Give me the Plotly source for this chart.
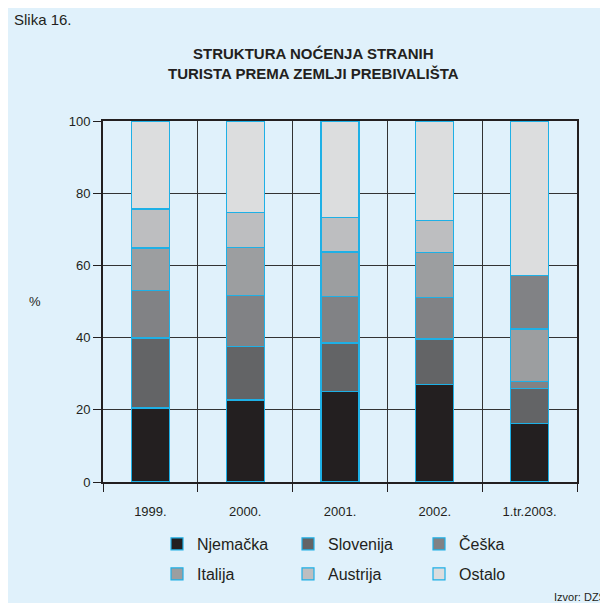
import plotly.graph_objects as go

years = ["1999.", "2000.", "2001.", "2002.", "1.tr.2003."]
countries = ["Njemačka", "Slovenija", "Češka", "Italija", "Austrija", "Ostalo"]

# share of foreign tourist nights, % (stacked bottom -> top)
njemacka = [20.5, 22.7, 25.1, 26.9, 16.1]
slovenija = [19.4, 14.8, 13.4, 12.7, 9.9]
ceska = [13.1, 14.1, 12.9, 11.6, 1.9]
italija = [11.8, 13.3, 12.3, 12.3, 14.5]
austrija = [10.8, 9.8, 9.5, 9.0, 14.7]
ostalo = [24.4, 25.3, 26.8, 27.5, 42.9]
series = [njemacka, slovenija, ceska, italija, austrija, ostalo]

BG = "#e0f1fb"
INK = "#231f20"
EDGE = "#1eb0e6"
FILLS = [
    [INK] * 5,
    ["#636466"] * 5,
    ["#818285"] * 5,
    ["#9c9ea0"] * 5,
    ["#bdbec0"] * 4 + ["#818285"],
    ["#dcddde"] * 5,
]
FONT = "Liberation Sans, Arial, sans-serif"

# page has an 8px body margin, so figure pixels = page pixels - 8
OFF = 8
W, H = 600, 595
L, R, T, B = 95, 31, 113, 121
pw, ph = W - L - R, H - T - B


def px(x):
    return (x - OFF - L) / pw


def py(y):
    return (H - B - (y - OFF)) / ph


fig = go.Figure()
for i, (name, vals, cols) in enumerate(zip(countries, series, FILLS)):
    fig.add_trace(
        go.Bar(
            x=years,
            y=vals,
            name=name,
            marker=dict(color=cols, line=dict(color=EDGE, width=1.2)),
            width=0.4,
            legend="legend" if i < 3 else "legend2",
        )
    )

legend_common = dict(
    orientation="h",
    x=px(157),
    xanchor="left",
    yanchor="middle",
    entrywidth=86,
    entrywidthmode="pixels",
    font=dict(size=16, color=INK),
    bgcolor="rgba(0,0,0,0)",
    traceorder="normal",
)

fig.update_layout(
    width=W,
    height=H,
    barmode="stack",
    paper_bgcolor=BG,
    plot_bgcolor=BG,
    margin=dict(l=L, r=R, t=T, b=B),
    font=dict(family=FONT, color=INK, size=12),
    showlegend=True,
    legend=dict(legend_common, y=py(544)),
    legend2=dict(legend_common, y=py(574)),
    annotations=[
        dict(text="Slika 16.", x=px(12), y=py(19), xref="paper", yref="paper",
             xanchor="left", yanchor="middle", showarrow=False, font=dict(size=15)),
        dict(text="<b>STRUKTURA NOĆENJA STRANIH<br>TURISTA PREMA ZEMLJI PREBIVALIŠTA</b>",
             x=px(313), y=py(64), xref="paper", yref="paper",
             xanchor="center", yanchor="middle", showarrow=False,
             font=dict(size=15)),
        dict(text="%", x=px(35), y=py(301), xref="paper", yref="paper",
             xanchor="center", yanchor="middle", showarrow=False, font=dict(size=13)),
        dict(text="Izvor: DZS", x=px(608), y=py(597), xref="paper", yref="paper",
             xanchor="right", yanchor="middle", showarrow=False, font=dict(size=11)),
    ],
)
fig.update_xaxes(
    type="category",
    tickson="boundaries",
    ticks="outside",
    ticklen=8,
    tickcolor=INK,
    ticklabelstandoff=16,
    showgrid=True,
    gridcolor="#333333",
    gridwidth=1,
    showline=True,
    linecolor=INK,
    linewidth=2,
    mirror=True,
    tickfont=dict(size=13),
)
fig.update_yaxes(
    range=[0, 100],
    tickvals=[0, 20, 40, 60, 80, 100],
    ticks="outside",
    ticklen=8,
    tickcolor=INK,
    showgrid=True,
    gridcolor="#333333",
    gridwidth=1,
    showline=True,
    linecolor=INK,
    linewidth=2,
    mirror=True,
    zeroline=False,
    tickfont=dict(size=13),
)

fig.write_html("out.html")
